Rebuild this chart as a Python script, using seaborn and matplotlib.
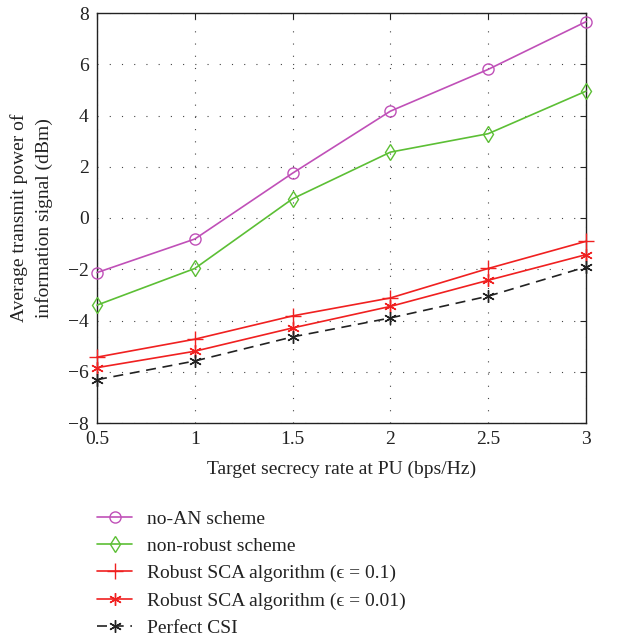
import matplotlib
matplotlib.use("Agg")
import matplotlib.pyplot as plt
import seaborn as sns
import pandas as pd
import numpy as np

rate = [0.5, 1.0, 1.5, 2.0, 2.5, 3.0]
no_an = [-2.13, -0.82, 1.75, 4.17, 5.8, 7.66]
non_robust = [-3.4, -1.97, 0.75, 2.57, 3.29, 4.95]
robust_01 = [-5.43, -4.73, -3.82, -3.12, -1.97, -0.91]
robust_001 = [-5.84, -5.2, -4.29, -3.45, -2.43, -1.43]
perfect_csi = [-6.31, -5.58, -4.64, -3.9, -3.05, -1.91]

labels = ["no-AN scheme", "non-robust scheme",
          "Robust SCA algorithm (\u03f5 = 0.1)",
          "Robust SCA algorithm (\u03f5 = 0.01)",
          "Perfect CSI"]
series = [no_an, non_robust, robust_01, robust_001, perfect_csi]
colors = ["#c050b8", "#5cbf35", "#f02020", "#f02020", "#222222"]
markers = ["o", "d", "+", (6, 2, 0), (6, 2, 0)]
styles = ["-", "-", "-", "-", (0, (6, 4))]
msizes = [8, 8, 11, 9, 9]

sns.set_style("white")
plt.rcParams["font.family"] = ["Liberation Serif", "DejaVu Serif"]

fig = plt.figure(figsize=(6.19, 6.37), dpi=100)
ax = fig.add_axes([97/619, 1-423/637, (586-97)/619, (423-13)/637])

for lab, vals, c, m, ls, ms in zip(labels, series, colors, markers, styles, msizes):
    df = pd.DataFrame({"rate": rate, "val": vals})
    sns.lineplot(data=df, x="rate", y="val", ax=ax, color=c, marker=m,
                 linestyle=ls, markersize=ms, markerfacecolor="none",
                 markeredgecolor=c, markeredgewidth=1.0, linewidth=1.2,
                 label=lab, legend=False, clip_on=False, zorder=5)

ax.set_xlim(0.5, 3.0)
ax.set_ylim(-8, 8)
ax.set_xticks([0.5, 1, 1.5, 2, 2.5, 3])
ax.set_xticklabels(["0.5", "1", "1.5", "2", "2.5", "3"])
ax.set_yticks(range(-8, 9, 2))
ax.set_yticklabels([("\u2212" + str(-v) if v < 0 else str(v)) for v in range(-8, 9, 2)])
ax.tick_params(direction="in", length=4, top=True, right=True, labelsize=14, colors="#222222", pad=6)
ax.grid(True, color="#444444", linestyle=(0, (1, 10)), linewidth=0.8)
for s in ax.spines.values():
    s.set_color("#222222")
    s.set_linewidth(1.0)
ax.set_xlabel("Target secrecy rate at PU (bps/Hz)", fontsize=14, color="#222222", labelpad=9)
ax.set_ylabel("Average transmit power of\ninformation signal (dBm)", fontsize=14, color="#222222",
              labelpad=11, linespacing=1.5)

handles, labs = ax.get_legend_handles_labels()
fig.legend(handles, labs, loc="upper left", bbox_to_anchor=(97/619, 1-510/637),
           frameon=False, fontsize=14, handlelength=1.8, labelspacing=0.5,
           handletextpad=0.75, borderaxespad=0, borderpad=0, labelcolor="#222222")

fig.savefig("out.png", dpi=100)
